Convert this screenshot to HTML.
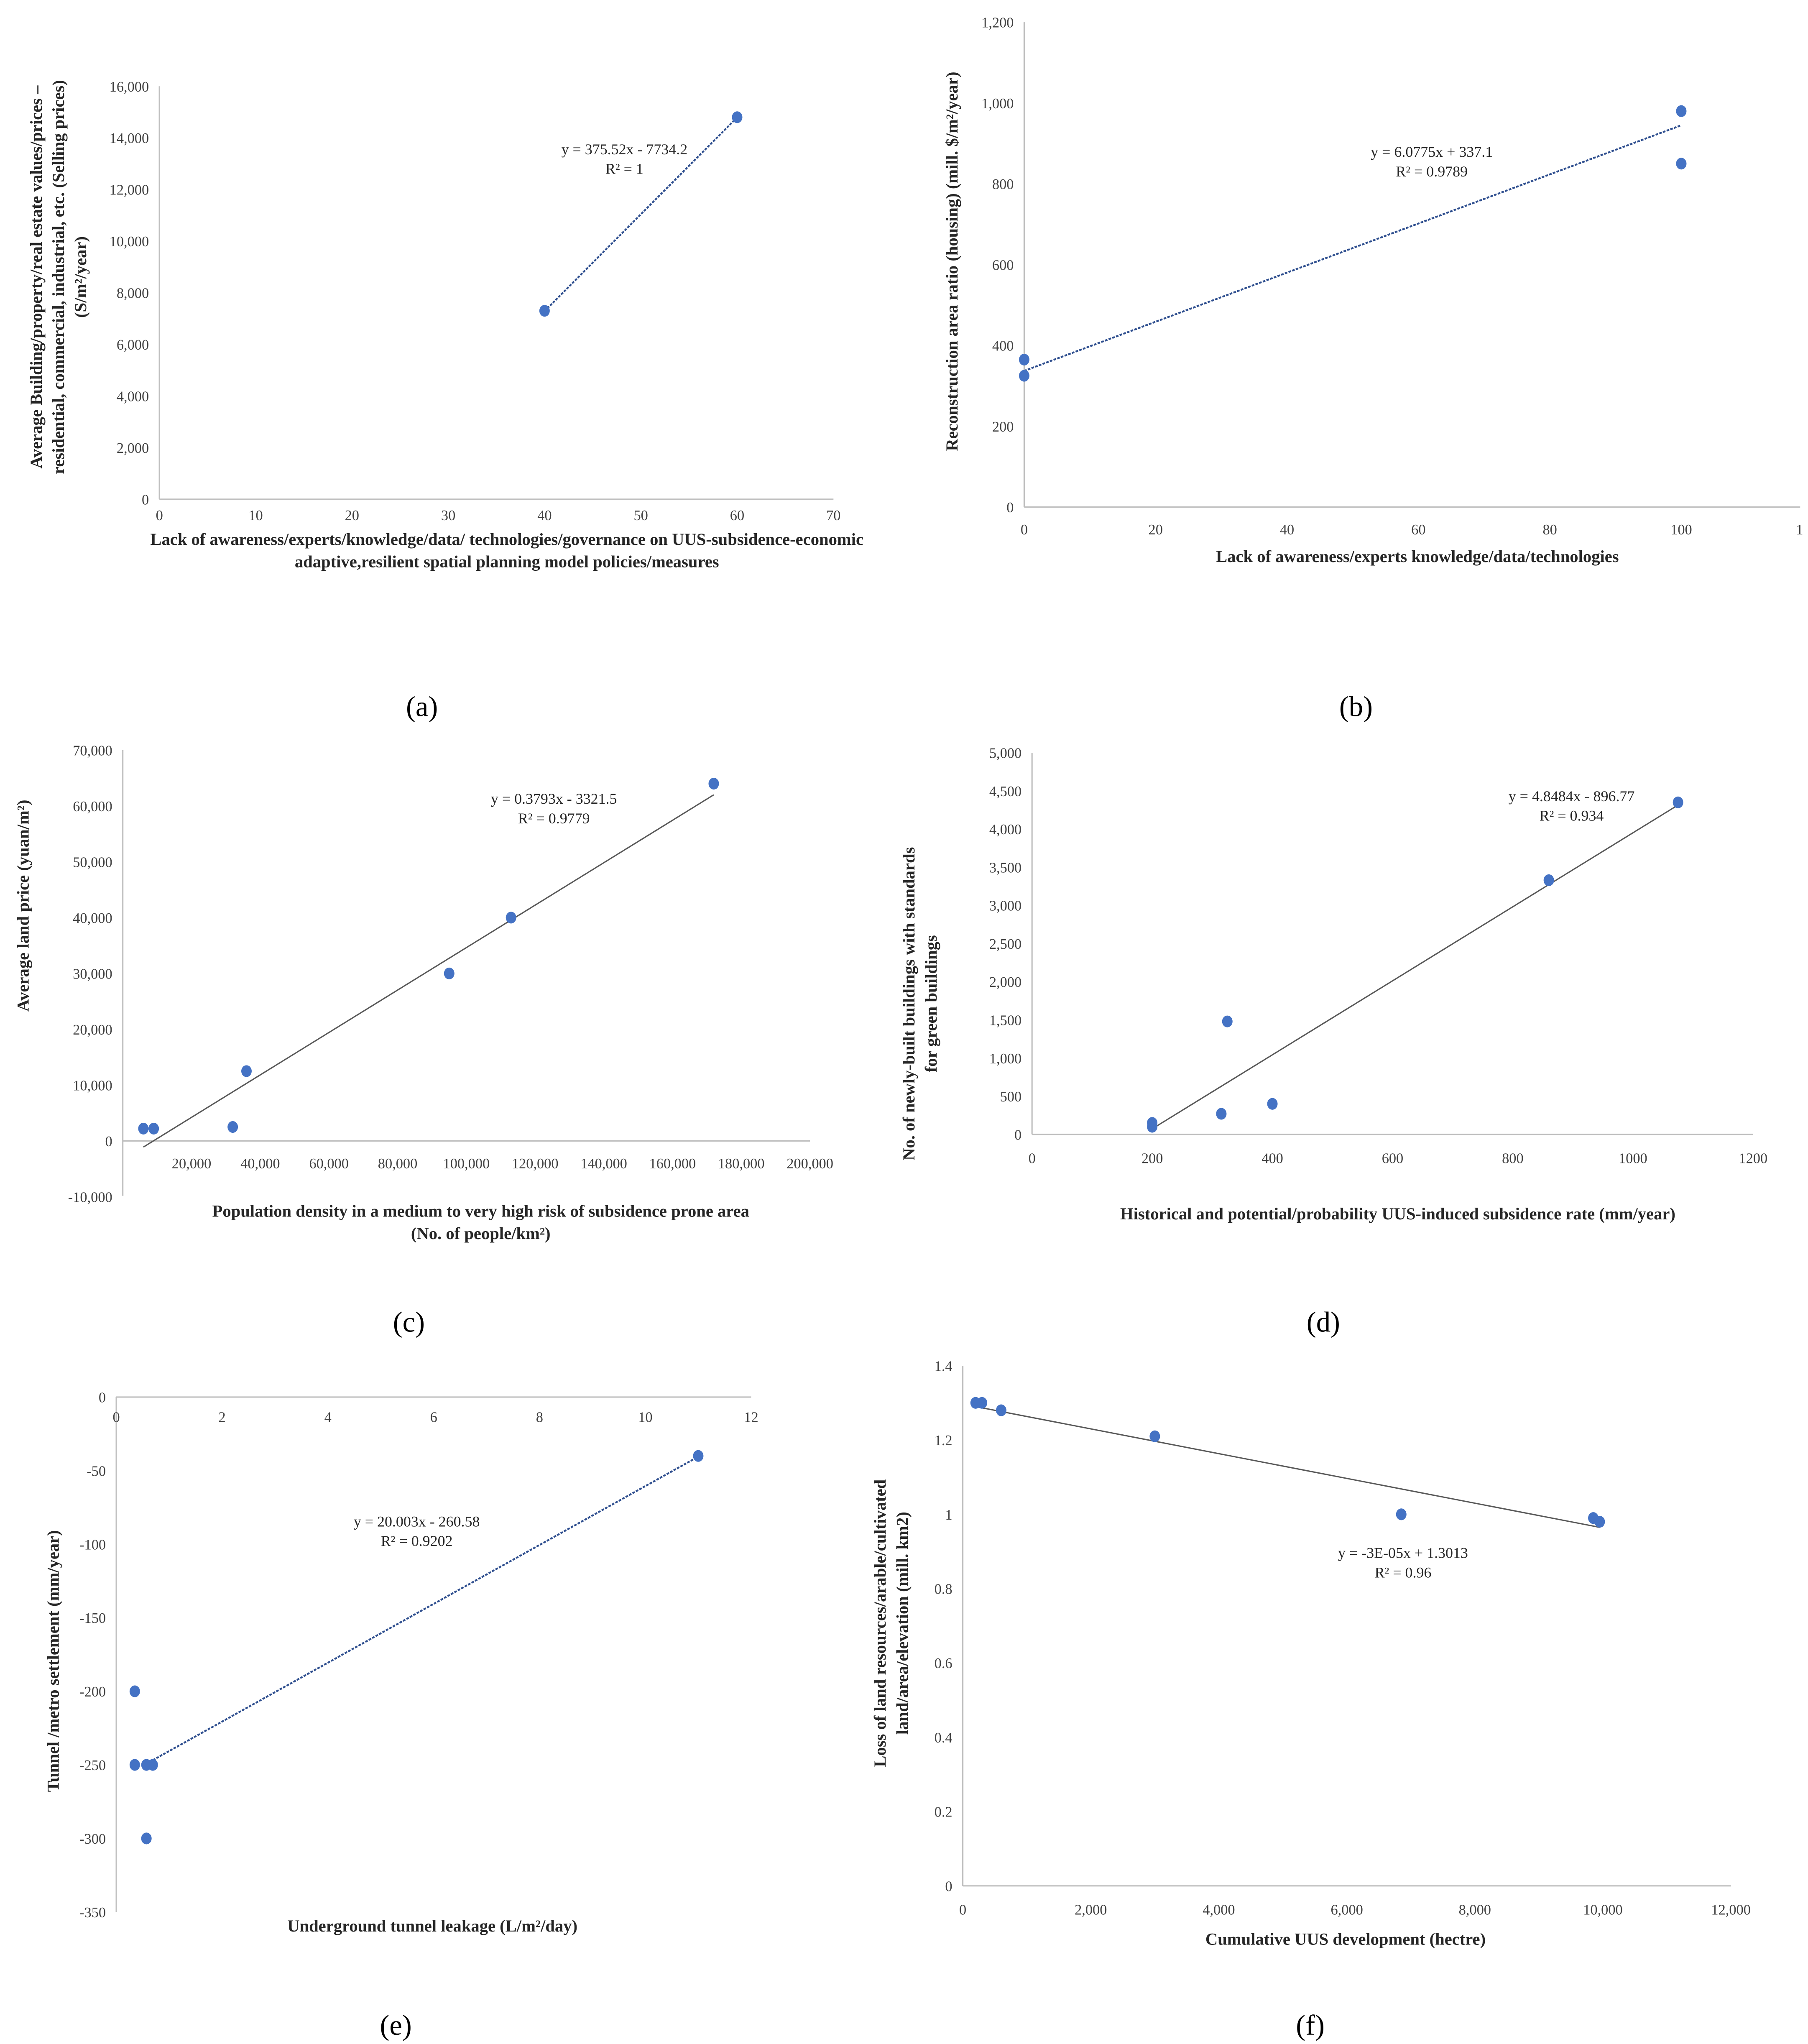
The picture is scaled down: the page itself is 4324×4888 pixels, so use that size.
<!DOCTYPE html>
<html><head><meta charset="utf-8">
<style>
html,body{margin:0;padding:0;background:#fff;}
svg{display:block;}
text{font-family:"Liberation Serif",serif;fill:#404040;}
.tick{font-size:11px;}
.title{font-size:13px;font-weight:bold;fill:#262626;}
.eq{font-size:11.5px;fill:#262626;}
.cap{font-size:22px;fill:#000;}
</style></head>
<body>
<svg id="fig" width="4324" height="4888" viewBox="0 0 1384 1564" preserveAspectRatio="none" xmlns="http://www.w3.org/2000/svg"></svg>
<script>
// ---- Data ----
const aX = [40, 60];
const aY = [7300, 14800];
const aTrendX = [40, 60];
const aTrendY = [7286, 14796];
const bX = [0, 0, 100, 100];
const bY = [365, 325, 980, 850];
const bTrendX = [0, 100];
const bTrendY = [337.1, 945];
const cX = [6000, 9000, 32000, 36000, 95000, 113000, 172000];
const cY = [2200, 2200, 2500, 12500, 30000, 40000, 64000];
const cTrendX = [6000, 172000];
const cTrendY = [-1100, 62000];
const dX = [200, 200, 315, 325, 400, 860, 1075];
const dY = [150, 100, 270, 1480, 400, 3330, 4350];
const dTrendX = [200, 1075];
const dTrendY = [73, 4315];
const eX = [0.35, 0.35, 0.57, 0.69, 0.57, 11];
const eY = [-200, -250, -250, -250, -300, -40];
const eTrendX = [0.5, 11];
const eTrendY = [-250.6, -40.5];
const fX = [200, 300, 600, 3000, 6850, 9850, 9950];
const fY = [1.30, 1.30, 1.28, 1.21, 1.0, 0.99, 0.98];
const fTrendX = [200, 9950];
const fTrendY = [1.29, 0.965];
const aXTicks = [0,10,20,30,40,50,60,70];
const aYTicks = [0,2000,4000,6000,8000,10000,12000,14000,16000];
const bXTicks = [0,20,40,60,80,100,118];
const bYTicks = [0,200,400,600,800,1000,1200];
const cXTicks = [20000,40000,60000,80000,100000,120000,140000,160000,180000,200000];
const cYTicks = [-10000,0,10000,20000,30000,40000,50000,60000,70000];
const dXTicks = [0,200,400,600,800,1000,1200];
const dYTicks = [0,500,1000,1500,2000,2500,3000,3500,4000,4500,5000];
const eXTicks = [0,2,4,6,8,10,12];
const eYTicks = [0,-50,-100,-150,-200,-250,-300,-350];
const fXTicks = [0,2000,4000,6000,8000,10000,12000];
const fYTicks = [0,0.2,0.4,0.6,0.8,1,1.2,1.4];

const NS = "http://www.w3.org/2000/svg";
const svg = document.getElementById('fig');
function mk(tag, attrs, parent){
  const e = document.createElementNS(NS, tag);
  for (const k in attrs) e.setAttribute(k, attrs[k]);
  (parent||svg).appendChild(e);
  return e;
}
function fmt(v){ return Math.abs(v)>=1000 ? v.toLocaleString('en-US') : String(v); }

function panel(p){
  const g = mk('g', {});
  
  
  const sx = v => p.px0 + (v - p.xmin) * (p.px1 - p.px0) / (p.xmax - p.xmin);
  const sy = v => p.py0 + (v - p.ymin) * (p.py1 - p.py0) / (p.ymax - p.ymin);
  const ya = mk('line', {x1:p.px0, x2:p.px0, y1:p.yAxisTop, y2:p.yAxisBot, stroke:'#bfbfbf','stroke-width':1}, g);
  
  
  const xa = mk('line', {x1:p.px0, x2:p.xAxisEnd, y1:sy(p.xAxisAt), y2:sy(p.xAxisAt), stroke:'#bfbfbf','stroke-width':1}, g);
  
  
  p.xt.forEach(v => {
    const t = mk('text', {x:sx(v), y:p.xLabY, 'text-anchor':'middle', class:'tick'}, g);
    t.textContent = p.xfmt ? p.xfmt(v) : fmt(v);
    
    
  });
  p.yt.forEach(v => {
    const t = mk('text', {x:p.px0 - 8, y:sy(v) + 4, 'text-anchor':'end', class:'tick'}, g);
    t.textContent = fmt(v);
    
    
  });
  const tr = mk('line', {x1:sx(p.tx[0]), y1:sy(p.ty[0]), x2:sx(p.tx[1]), y2:sy(p.ty[1]),
    stroke:p.dashed?'#2f4f8f':'#595959', 'stroke-width':p.dashed?1.4:1, 'stroke-dasharray':p.dashed?'2 1':'none'}, g);
  
  
  p.xs.forEach((x, i) => {
    const c = mk('ellipse', {cx:sx(x), cy:sy(p.ys[i]), rx:4, ry:4.5, fill:'#4472c4'}, g);
    
    
  });
  p.eq.forEach((s, i) => {
    const t = mk('text', {x:p.eqX, y:p.eqY + i*15, 'text-anchor':'middle', class:'eq'}, g);
    t.textContent = s;
    
    
  });
  p.yTitle.forEach((s, i) => {
    const x = p.ytX + i*17;
    const t = mk('text', {x:x, y:p.ytY, 'text-anchor':'middle', class:'title', transform:'rotate(-90 '+x+' '+p.ytY+')'}, g);
    t.textContent = s;
    
    
  });
  p.xTitle.forEach((s, i) => {
    const t = mk('text', {x:p.xtX, y:p.xtY + i*17, 'text-anchor':'middle', class:'title'}, g);
    t.textContent = s;
    
    
  });
  const cp = mk('text', {x:p.capX, y:p.capY, 'text-anchor':'middle', class:'cap'}, g);
  cp.textContent = p.cap;
  
  
}

panel({id:'panel-a', xs:aX, ys:aY, tx:aTrendX, ty:aTrendY, dashed:true,
  xmin:0,xmax:70,px0:122,px1:638, ymin:0,ymax:16000,py0:382,py1:66,
  yAxisTop:66,yAxisBot:382,xAxisAt:0,xAxisEnd:638, xt:aXTicks, yt:aYTicks, xLabY:398,
  eq:['y = 375.52x - 7734.2','R\u00b2 = 1'], eqX:478, eqY:118,
  yTitle:['Average Building/property/real  estate values/prices \u2013','residential,  commercial, industrial,  etc. (Selling prices)','(S/m\u00b2/year)'],
  ytX:32, ytY:212, xTitle:['Lack of awareness/experts/knowledge/data/ technologies/governance on UUS-subsidence-economic','adaptive,resilient  spatial planning  model policies/measures'],
  xtX:388, xtY:417, cap:'(a)', capX:323, capY:548});

panel({id:'panel-b', xs:bX, ys:bY, tx:bTrendX, ty:bTrendY, dashed:true,
  xmin:0,xmax:100,px0:784,px1:1287, ymin:0,ymax:1200,py0:388,py1:17,
  yAxisTop:17,yAxisBot:388,xAxisAt:0,xAxisEnd:1378, xt:bXTicks, yt:bYTicks, xLabY:409,
  xfmt: v => v > 100 ? '1' : String(v),
  eq:['y = 6.0775x + 337.1','R\u00b2 = 0.9789'], eqX:1096, eqY:120,
  yTitle:['Reconstruction  area ratio  (housing)  (mill.  $/m\u00b2/year)'], ytX:733, ytY:200,
  xTitle:['Lack of awareness/experts knowledge/data/technologies'], xtX:1085, xtY:430,
  cap:'(b)', capX:1038, capY:548});

panel({id:'panel-c', xs:cX, ys:cY, tx:cTrendX, ty:cTrendY, dashed:false,
  xmin:0,xmax:200000,px0:94,px1:620, ymin:0,ymax:70000,py0:873,py1:574,
  yAxisTop:574,yAxisBot:915,xAxisAt:0,xAxisEnd:620, xt:cXTicks, yt:cYTicks, xLabY:894,
  eq:['y = 0.3793x - 3321.5','R\u00b2 = 0.9779'], eqX:424, eqY:615,
  yTitle:['Average land price (yuan/m\u00b2)'], ytX:22, ytY:693,
  xTitle:['Population density in a medium to very high risk of subsidence prone area','(No. of people/km\u00b2)'],
  xtX:368, xtY:931, cap:'(c)', capX:313, capY:1019});

panel({id:'panel-d', xs:dX, ys:dY, tx:dTrendX, ty:dTrendY, dashed:false,
  xmin:0,xmax:1200,px0:790,px1:1342, ymin:0,ymax:5000,py0:868,py1:576,
  yAxisTop:576,yAxisBot:868,xAxisAt:0,xAxisEnd:1342, xt:dXTicks, yt:dYTicks, xLabY:890,
  xfmt: v => String(v),
  eq:['y = 4.8484x - 896.77','R\u00b2 = 0.934'], eqX:1203, eqY:613,
  yTitle:['No. of newly-built  buildings  with standards','for green buildings'], ytX:700, ytY:768,
  xTitle:['Historical and potential/probability  UUS-induced subsidence rate (mm/year)'],
  xtX:1070, xtY:933, cap:'(d)', capX:1013, capY:1019});

panel({id:'panel-e', xs:eX, ys:eY, tx:eTrendX, ty:eTrendY, dashed:true,
  xmin:0,xmax:12,px0:89,px1:575, ymin:0,ymax:-350,py0:1069,py1:1463,
  yAxisTop:1069,yAxisBot:1463,xAxisAt:0,xAxisEnd:575, xt:eXTicks, yt:eYTicks, xLabY:1088,
  eq:['y = 20.003x - 260.58','R\u00b2 = 0.9202'], eqX:319, eqY:1168,
  yTitle:['Tunnel  /metro settlement  (mm/year)'], ytX:45, ytY:1271,
  xTitle:['Underground  tunnel leakage (L/m\u00b2/day)'], xtX:331, xtY:1478,
  cap:'(e)', capX:303, capY:1557});

panel({id:'panel-f', xs:fX, ys:fY, tx:fTrendX, ty:fTrendY, dashed:false,
  xmin:0,xmax:12000,px0:737,px1:1325, ymin:0,ymax:1.4,py0:1443,py1:1045,
  yAxisTop:1045,yAxisBot:1443,xAxisAt:0,xAxisEnd:1325, xt:fXTicks, yt:fYTicks, xLabY:1465,
  eq:['y = -3E-05x + 1.3013','R\u00b2 = 0.96'], eqX:1074, eqY:1192,
  yTitle:['Loss of land  resources/arable/cultivated','land/area/elevation (mill.  km2)'], ytX:678, ytY:1242,
  xTitle:['Cumulative UUS development (hectre)'], xtX:1030, xtY:1488,
  cap:'(f)', capX:1003, capY:1557});
</script>
</body></html>
